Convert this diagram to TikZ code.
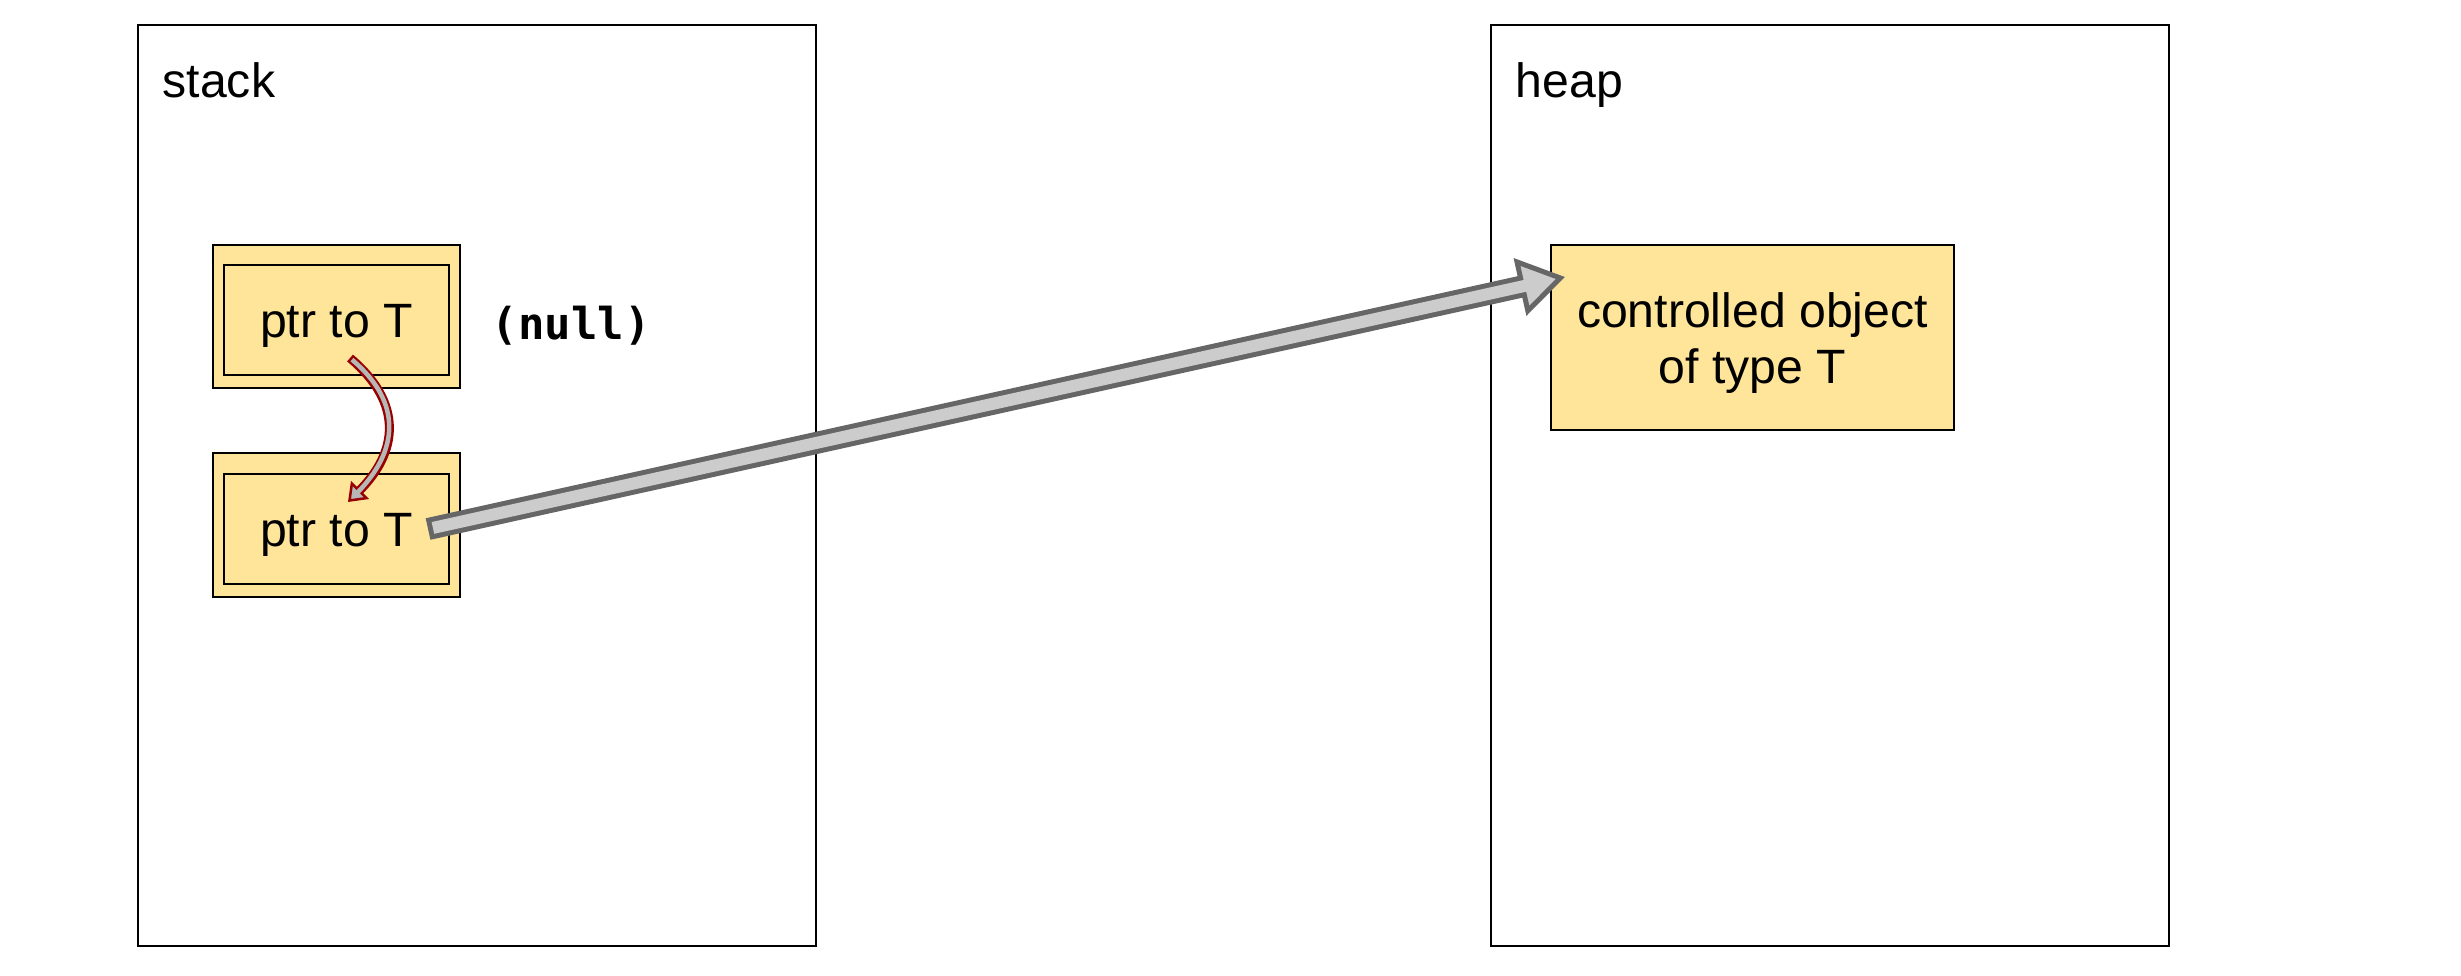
\documentclass[tikz,border=0pt]{standalone}
\usepackage{fontspec}
\setmainfont{Liberation Sans}
\newfontfamily\codefont{DejaVu Sans Mono}
\usetikzlibrary{arrows.meta}
\definecolor{cellyellow}{HTML}{FFE599}
\definecolor{shaftfill}{HTML}{CCCCCC}
\definecolor{shaftedge}{HTML}{666666}
\definecolor{movefill}{HTML}{B7B7B7}
\definecolor{moveedge}{HTML}{990000}
\tikzset{
	region/.style={draw, line width=0.02cm, minimum width=6.78cm, minimum height=9.21cm},
	slot/.style={draw, fill=cellyellow, line width=0.02cm, minimum width=2.47cm, minimum height=1.43cm},
	ptrbox/.style={draw, fill=cellyellow, line width=0.02cm, minimum width=2.25cm, minimum height=1.10cm, text height=0.34cm, text depth=0cm},
	objbox/.style={draw, fill=cellyellow, line width=0.02cm, minimum width=4.03cm, minimum height=1.85cm},
	shaftout/.style={draw=shaftedge, line width=0.22cm, -{Triangle[width=0.58cm, length=0.46cm, line width=0.05cm, fill=shaftfill]}},
	shaftin/.style={draw=shaftfill, line width=0.12cm, shorten <=0.05cm, shorten >=0.38cm},
	moveout/.style={draw=moveedge, line width=0.09cm, -{Triangle[width=0.25cm, length=0.17cm, line width=0.025cm, fill=movefill]}},
	movein/.style={draw=movefill, line width=0.045cm, shorten <=0.025cm, shorten >=0.12cm}
}
\begin{document}
\begin{tikzpicture}[x=0.01cm, y=0.01cm, every node/.append style={font=\fontsize{13.7pt}{15.9pt}\selectfont}]
	\useasboundingbox (0,0) rectangle (2461,-975);
	
	\node[region] (stack) at (477,-485.5) {};
	\node[region] (heap) at (1830,-485.5) {};
	\node[anchor=base west, inner sep=0pt] (stacklbl) at (162,-97) {stack};
	\node[anchor=base west, inner sep=0pt] (heaplbl) at (1515,-97) {heap};
	
	\node[slot] (slotA) at (336.5,-316.5) {};
	\node[ptrbox] (ptrA) at (336.5,-320) {ptr to T};
	\node[slot] (slotB) at (336.5,-525) {};
	\node[ptrbox] (ptrB) at (336.5,-529) {ptr to T};
	\node[anchor=base west, inner sep=0pt, font=\codefont\bfseries\fontsize{12.5pt}{14pt}\selectfont] (nulllbl) at (491,-339) {(null)};
	
	\node[objbox] (obj) at (1752.5,-337.5) {};
	\node[align=center, inner sep=0pt] (objtext) at (1752.5,-343) {controlled object\\of type T};
	
	\coordinate (movefrom) at ([xshift=0.135cm, yshift=0.18cm]ptrA.south);
	\coordinate (moveto) at ([xshift=0.115cm, yshift=-0.29cm]ptrB.north);
	\draw[moveout] (movefrom) to[out=-40, in=45, looseness=1.25] (moveto);
	\draw[movein] (movefrom) to[out=-40, in=45, looseness=1.25] (moveto);
	
	\coordinate (shaftfrom) at ([xshift=-0.22cm]ptrB.east);
	\coordinate (shaftto) at ([xshift=0.15cm, yshift=-0.33cm]obj.north west);
	\draw[shaftout] (shaftfrom) -- (shaftto);
	\draw[shaftin] (shaftfrom) -- (shaftto);
\end{tikzpicture}
\end{document}
